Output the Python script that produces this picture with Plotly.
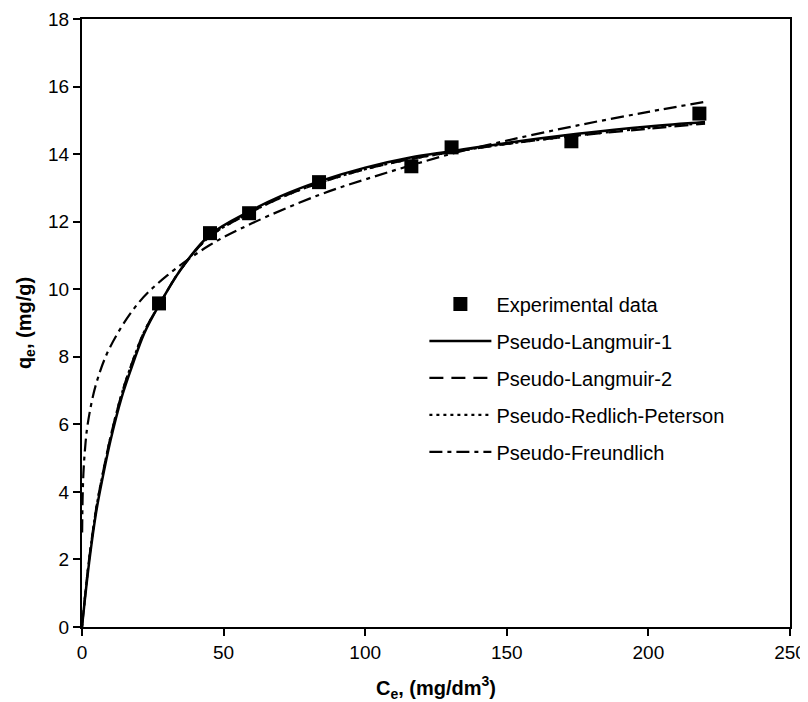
import plotly.graph_objects as go

# Experimental data
exp_c = [27.2, 45.2, 59.0, 83.7, 116.3, 130.5, 172.8, 218.0]
exp_q = [9.58, 11.66, 12.25, 13.17, 13.64, 14.2, 14.38, 15.2]

# Model curves
lang1_c = [0, 1, 2.5, 5, 7, 10, 14, 18, 22, 27, 35, 45, 59, 70, 84, 100, 116, 130, 150, 175, 200, 220]
lang1_q = [0, 0.8, 1.9, 3.4, 4.3, 5.5, 6.8, 7.8, 8.7, 9.5, 10.6, 11.6, 12.3, 12.75, 13.2, 13.6, 13.9, 14.08, 14.33, 14.6, 14.82, 14.95]

lang2_c = [0, 1, 2.5, 5, 7, 10, 14, 18, 22, 27, 35, 45, 59, 70, 84, 100, 116, 130, 150, 175, 200, 220]
lang2_q = [0, 0.85, 2.0, 3.5, 4.4, 5.6, 6.9, 7.9, 8.75, 9.5, 10.6, 11.55, 12.25, 12.7, 13.15, 13.55, 13.85, 14.05, 14.3, 14.55, 14.75, 14.9]

rp_c = [0, 1, 2.5, 5, 7, 10, 14, 18, 22, 27, 35, 45, 59, 70, 84, 100, 116, 130, 150, 175, 200, 220]
rp_q = [0, 0.85, 2.0, 3.5, 4.4, 5.6, 6.9, 7.9, 8.75, 9.5, 10.6, 11.55, 12.25, 12.7, 13.15, 13.55, 13.85, 14.05, 14.3, 14.55, 14.77, 14.92]

freu_c = [0.05, 0.2, 0.5, 1, 2, 5, 10, 20, 30, 45, 60, 84, 100, 130, 150, 175, 200, 220]
freu_q = [2.8, 3.75, 4.55, 5.2, 6.0, 7.2, 8.3, 9.6, 10.4, 11.3, 11.95, 12.8, 13.25, 14.0, 14.4, 14.85, 15.25, 15.55]

x_ticks = [0, 50, 100, 150, 200, 250]
y_ticks = [0, 2, 4, 6, 8, 10, 12, 14, 16, 18]

FONT = "Arial, Liberation Sans, sans-serif"

fig = go.Figure()
fig.add_trace(go.Scatter(x=exp_c, y=exp_q, mode="markers", name="Experimental data",
                         marker=dict(symbol="square", size=14, color="black"),
                         legendgroup="a"))
fig.add_trace(go.Scatter(x=lang1_c, y=lang1_q, mode="lines", name="Pseudo-Langmuir-1",
                         line=dict(color="black", width=2.5, shape="spline"),
                         legendgroup="b"))
fig.add_trace(go.Scatter(x=lang2_c, y=lang2_q, mode="lines", name="Pseudo-Langmuir-2",
                         line=dict(color="black", width=2.2, dash="14px,8px", shape="spline"),
                         legendgroup="c"))
fig.add_trace(go.Scatter(x=rp_c, y=rp_q, mode="lines", name="Pseudo-Redlich-Peterson",
                         line=dict(color="black", width=2.2, dash="3px,4px", shape="spline"),
                         legendgroup="d"))
fig.add_trace(go.Scatter(x=freu_c, y=freu_q, mode="lines", name="Pseudo-Freundlich",
                         line=dict(color="black", width=2.2, dash="13px,5px,4px,5px", shape="spline"),
                         legendgroup="e"))

axis_common = dict(showline=True, linecolor="black", linewidth=2, mirror=True,
                   ticks="outside", ticklen=7, tickwidth=2, tickcolor="black",
                   showgrid=False, zeroline=False, automargin=False,
                   tickfont=dict(family=FONT, size=19, color="black"))

fig.update_xaxes(range=[0, 250], tickvals=x_ticks, ticktext=[str(v) for v in x_ticks],
                 title=dict(text="<b>C<sub>e</sub>, (mg/dm<sup>3</sup>)</b>",
                            font=dict(family=FONT, size=20, color="black"), standoff=20),
                 **axis_common)
fig.update_yaxes(range=[0, 18], tickvals=y_ticks, ticktext=[str(v) for v in y_ticks],
                 title=dict(text="<b>q<sub>e</sub>, (mg/g)</b>",
                            font=dict(family=FONT, size=20, color="black"), standoff=11),
                 **axis_common)

fig.update_layout(
    width=800, height=694,
    margin=dict(l=74, r=18, t=11, b=75),
    paper_bgcolor="white", plot_bgcolor="white",
    font=dict(family=FONT, color="black"),
    legend=dict(x=0.4836, y=0.5635, xanchor="left", yanchor="top",
                font=dict(family=FONT, size=20, color="black"),
                bgcolor="rgba(0,0,0,0)", itemwidth=62,
                traceorder="grouped", tracegroupgap=8),
)

fig.write_html("out.html")
